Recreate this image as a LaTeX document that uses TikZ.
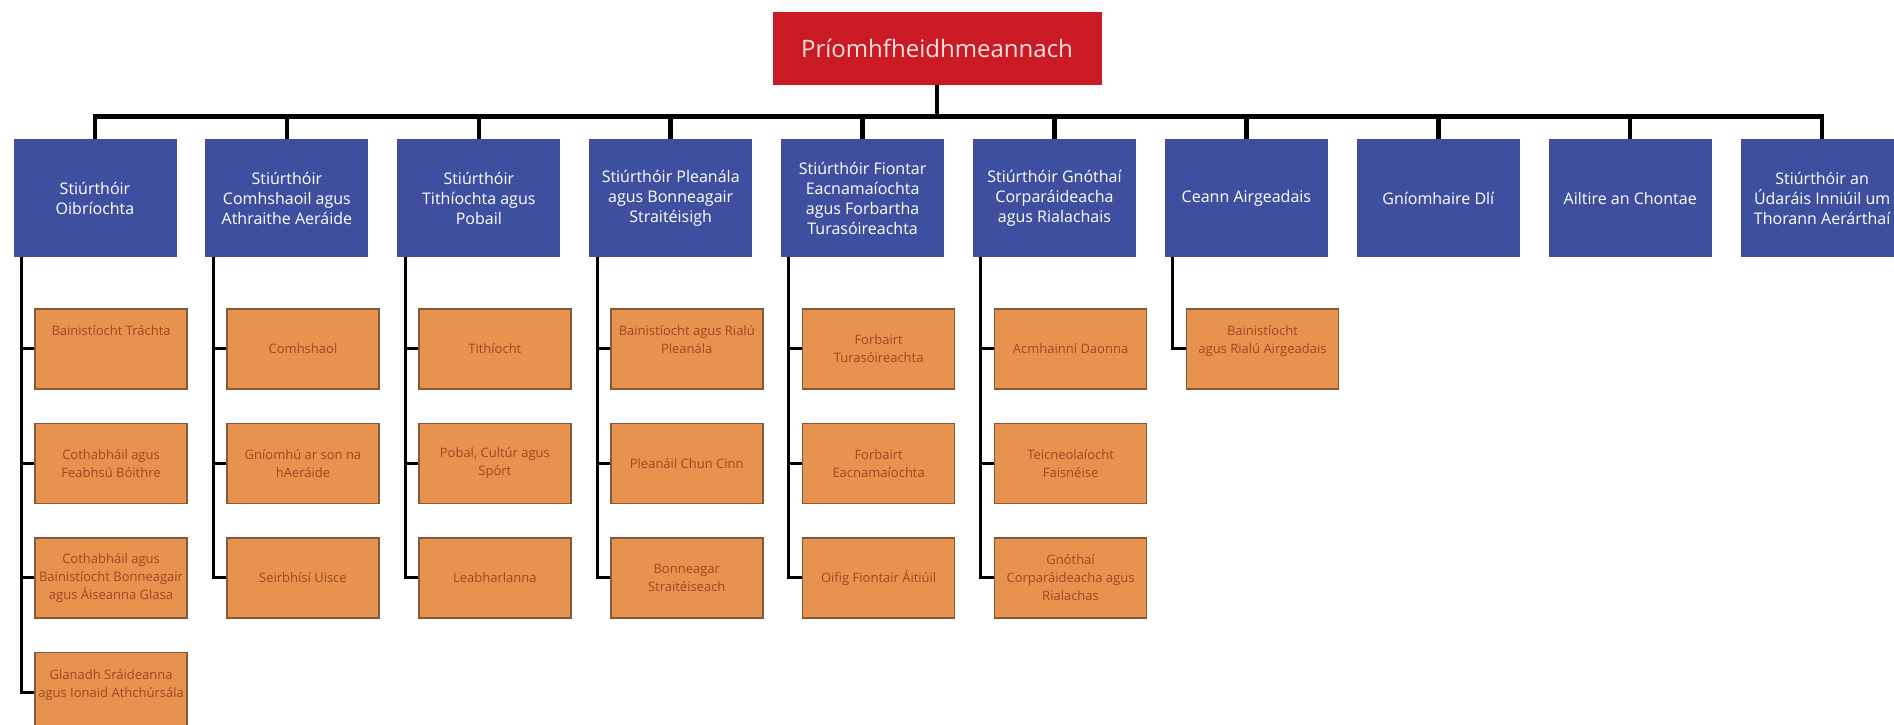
\documentclass[tikz,border=0pt]{standalone}
\usepackage{fontspec}
\setmainfont{Open Sans}
\usetikzlibrary{positioning}

\definecolor{cored}{HTML}{CA1A24}
\definecolor{coblue}{HTML}{3E4FA0}
\definecolor{coorange}{HTML}{E8924F}
\definecolor{coedge}{HTML}{85593A}
\definecolor{cotext}{HTML}{9A4A20}

\tikzset{
  chief/.style={fill=cored, text=white!88!red, minimum width=329pt, minimum height=73pt,
    font=\fontsize{24}{28}\selectfont},
  director/.style={fill=coblue, text=white, minimum width=163pt, minimum height=118pt,
    align=center, inner sep=1pt, font=\fontsize{16}{20}\selectfont},
  unit/.style={fill=coorange, draw=coedge, line width=1.5pt, text=cotext, minimum width=152pt,
    minimum height=80pt, align=center, inner sep=1pt, font=\fontsize{13}{18}\selectfont},
  bus/.style={line width=4.5pt},
  trunk/.style={line width=3pt}
}

\begin{document}
\begin{tikzpicture}[x=1pt, y=-1pt, node distance=33pt]
\useasboundingbox (0,0) rectangle (1894,724);
\node[chief] (ceo) at (937,48) {Príomhfheidhmeannach};
\coordinate (bus) at ([yshift=-32pt]ceo.south);

% directors
\node[director] (oib) at (95,198) {Stiúrthóir\\Oibríochta};
\node[director, right=28.5pt of oib] (comh) {Stiúrthóir\\Comhshaoil agus\\Athraithe Aeráide};
\node[director, right=28.5pt of comh] (tith) {Stiúrthóir\\Tithíochta agus\\Pobail};
\node[director, right=28.5pt of tith] (plean) {Stiúrthóir Pleanála\\agus Bonneagair\\Straitéisigh};
\node[director, right=28.5pt of plean] (fiont) {Stiúrthóir Fiontar\\Eacnamaíochta\\agus Forbartha\\Turasóireachta};
\node[director, right=28.5pt of fiont] (gnoth) {Stiúrthóir Gnóthaí\\Corparáideacha\\agus Rialachais};
\node[director, right=28.5pt of gnoth] (airg) {Ceann Airgeadais};
\node[director, right=28.5pt of airg] (dli) {Gníomhaire Dlí};
\node[director, right=28.5pt of dli] (ailt) {Ailtire an Chontae};
\node[director, right=28.5pt of ailt] (torann) {Stiúrthóir an\\Údaráis Inniúil um\\Thorann Aerárthaí};

\draw[bus] (ceo.south) -- (bus);
\draw[bus] (oib.north) |- (bus);
\draw[bus] (comh.north) |- (bus);
\draw[bus] (tith.north) |- (bus);
\draw[bus] (plean.north) |- (bus);
\draw[bus] (fiont.north) |- (bus);
\draw[bus] (gnoth.north) |- (bus);
\draw[bus] (airg.north) |- (bus);
\draw[bus] (dli.north) |- (bus);
\draw[bus] (ailt.north) |- (bus);
\draw[bus] (torann.north) |- (bus);

% units
\node[unit, anchor=north west] (tracht) at ([xshift=21pt,yshift=-51pt]oib.south west) {Bainistíocht Tráchta\\~\\~};
\node[unit, below=of tracht] (bothar) {Cothabháil agus\\Feabhsú Bóithre};
\node[unit, below=of bothar] (glas) {Cothabháil agus\\Bainistíocht Bonneagair\\agus Áiseanna Glasa};
\node[unit, below=of glas] (glan) {Glanadh Sráideanna\\agus Ionaid Athchúrsála\\~};

\node[unit, anchor=north west] (comhs) at ([xshift=21pt,yshift=-51pt]comh.south west) {Comhshaol};
\node[unit, below=of comhs] (aeraid) {Gníomhú ar son na\\hAeráide};
\node[unit, below=of aeraid] (uisce) {Seirbhísí Uisce};

\node[unit, anchor=north west] (tithi) at ([xshift=21pt,yshift=-51pt]tith.south west) {Tithíocht};
\node[unit, below=of tithi] (pobal) {Pobal, Cultúr agus\\Spórt};
\node[unit, below=of pobal] (leabh) {Leabharlanna};

\node[unit, anchor=north west] (rialu) at ([xshift=21pt,yshift=-51pt]plean.south west) {Bainistíocht agus Rialú\\Pleanála\\~};
\node[unit, below=of rialu] (chun) {Pleanáil Chun Cinn};
\node[unit, below=of chun] (straite) {Bonneagar\\Straitéiseach};

\node[unit, anchor=north west] (turas) at ([xshift=21pt,yshift=-51pt]fiont.south west) {Forbairt\\Turasóireachta};
\node[unit, below=of turas] (eacn) {Forbairt\\Eacnamaíochta};
\node[unit, below=of eacn] (oifig) {Oifig Fiontair Áitiúil};

\node[unit, anchor=north west] (daonna) at ([xshift=21pt,yshift=-51pt]gnoth.south west) {Acmhainní Daonna};
\node[unit, below=of daonna] (teic) {Teicneolaíocht\\Faisnéise};
\node[unit, below=of teic] (corp) {Gnóthaí\\Corparáideacha agus\\Rialachas};

\node[unit, anchor=north west] (airgr) at ([xshift=21pt,yshift=-51pt]airg.south west) {Bainistíocht\\agus Rialú Airgeadais\\~};

\draw[trunk] ([xshift=8pt]oib.south west) |- (tracht.west);
\draw[trunk] ([xshift=8pt]oib.south west) |- (bothar.west);
\draw[trunk] ([xshift=8pt]oib.south west) |- (glas.west);
\draw[trunk] ([xshift=8pt]oib.south west) |- (glan.west);
\draw[trunk] ([xshift=8pt]comh.south west) |- (comhs.west);
\draw[trunk] ([xshift=8pt]comh.south west) |- (aeraid.west);
\draw[trunk] ([xshift=8pt]comh.south west) |- (uisce.west);
\draw[trunk] ([xshift=8pt]tith.south west) |- (tithi.west);
\draw[trunk] ([xshift=8pt]tith.south west) |- (pobal.west);
\draw[trunk] ([xshift=8pt]tith.south west) |- (leabh.west);
\draw[trunk] ([xshift=8pt]plean.south west) |- (rialu.west);
\draw[trunk] ([xshift=8pt]plean.south west) |- (chun.west);
\draw[trunk] ([xshift=8pt]plean.south west) |- (straite.west);
\draw[trunk] ([xshift=8pt]fiont.south west) |- (turas.west);
\draw[trunk] ([xshift=8pt]fiont.south west) |- (eacn.west);
\draw[trunk] ([xshift=8pt]fiont.south west) |- (oifig.west);
\draw[trunk] ([xshift=8pt]gnoth.south west) |- (daonna.west);
\draw[trunk] ([xshift=8pt]gnoth.south west) |- (teic.west);
\draw[trunk] ([xshift=8pt]gnoth.south west) |- (corp.west);
\draw[trunk] ([xshift=8pt]airg.south west) |- (airgr.west);
\end{tikzpicture}
\end{document}
